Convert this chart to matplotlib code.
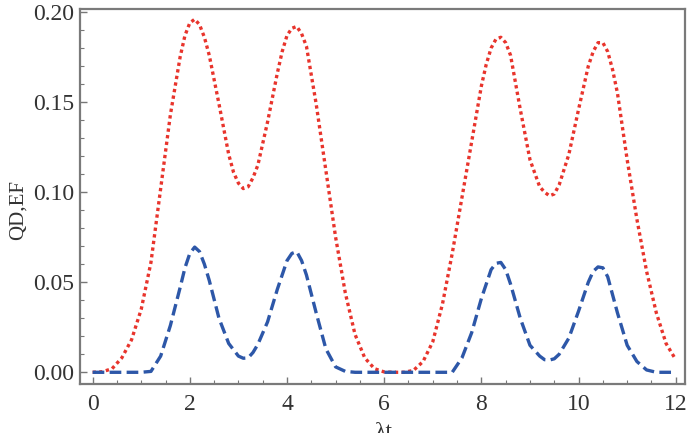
#! /usr/bin/env python

# Import libraries
import matplotlib
matplotlib.use('Agg')
import matplotlib.pyplot as plt
from matplotlib.ticker import MultipleLocator, FormatStrFormatter

plt.rcParams['font.family'] = ['Liberation Serif', 'TeX Gyre Termes', 'DejaVu Serif']
plt.rcParams['font.size'] = 17

# Values (red dotted)
t_ef = [0, 0.2, 0.4, 0.6, 0.8, 1.0, 1.2, 1.4, 1.6, 1.8, 1.9, 2.0, 2.1, 2.2, 2.3, 2.4, 2.6,
        2.8, 2.9, 3.0, 3.1, 3.2, 3.3, 3.4, 3.6, 3.8, 3.9, 4.0, 4.1, 4.2, 4.3, 4.4, 4.6, 4.8,
        5.0, 5.2, 5.4, 5.6, 5.8, 6.0, 6.2, 6.4, 6.6, 6.8, 7.0, 7.2, 7.4, 7.6, 7.8, 8.0, 8.1,
        8.2, 8.3, 8.4, 8.5, 8.6, 8.8, 9.0, 9.2, 9.3, 9.4, 9.5, 9.6, 9.8, 10.0, 10.2, 10.3,
        10.4, 10.5, 10.6, 10.7, 10.8, 11.0, 11.2, 11.4, 11.6, 11.8, 12.0]
ef = [0.000, 0.0003, 0.002, 0.008, 0.018, 0.035, 0.061, 0.102, 0.143, 0.175, 0.187, 0.194,
      0.196, 0.193, 0.186, 0.176, 0.149, 0.121, 0.111, 0.105, 0.102, 0.103, 0.108, 0.115,
      0.139, 0.166, 0.178, 0.187, 0.191, 0.192, 0.188, 0.181, 0.149, 0.112, 0.075, 0.044,
      0.021, 0.008, 0.002, 0.0002, 0.000, 0.000, 0.001, 0.006, 0.017, 0.038, 0.066, 0.097,
      0.128, 0.159, 0.171, 0.180, 0.185, 0.186, 0.183, 0.176, 0.146, 0.118, 0.103, 0.100,
      0.098, 0.099, 0.104, 0.121, 0.146, 0.170, 0.178, 0.183, 0.183, 0.178, 0.168, 0.155,
      0.118, 0.085, 0.056, 0.033, 0.016, 0.007]

# Blue dashed
t_qd = [0, 0.2, 0.4, 0.6, 0.8, 1.0, 1.2, 1.4, 1.6, 1.8, 1.9, 2.0, 2.1, 2.2, 2.3, 2.4, 2.6,
        2.8, 3.0, 3.1, 3.2, 3.3, 3.4, 3.6, 3.8, 4.0, 4.1, 4.2, 4.3, 4.4, 4.6, 4.8, 5.0, 5.2,
        5.4, 6.0, 7.0, 7.4, 7.6, 7.8, 8.0, 8.2, 8.3, 8.4, 8.5, 8.6, 8.8, 9.0, 9.2, 9.3, 9.4,
        9.5, 9.6, 9.8, 10.0, 10.2, 10.3, 10.4, 10.5, 10.6, 10.8, 11.0, 11.2, 11.4, 11.6, 12.0]
qd = [0, 0, 0, 0, 0, 0, 0.0005, 0.009, 0.026, 0.047, 0.058, 0.066, 0.0695, 0.067, 0.060,
      0.051, 0.030, 0.016, 0.009, 0.0078, 0.008, 0.011, 0.0155, 0.028, 0.046, 0.062, 0.066,
      0.067, 0.062, 0.054, 0.033, 0.013, 0.003, 0.0005, 0, 0, 0, 0, 0.008, 0.022, 0.041,
      0.057, 0.0605, 0.061, 0.057, 0.049, 0.030, 0.015, 0.009, 0.007, 0.0068, 0.0075, 0.010,
      0.019, 0.034, 0.050, 0.056, 0.0585, 0.058, 0.053, 0.033, 0.015, 0.006, 0.0013, 0, 0]

fig = plt.figure(figsize=(6.87, 4.33), dpi=100)
ax = fig.add_axes([80/687, 1 - 384/433, 605/687, 375/433])

ax.plot(t_ef, ef, color='#e8342c', linestyle=(0, (1, 1)), linewidth=2.4)
ax.plot(t_qd, qd, color='#2d57a8', linestyle=(0, (3.5, 1.6)), linewidth=2.4)

ax.set_xlim(-0.26, 12.19)
ax.set_ylim(-0.0065, 0.2017)

ax.xaxis.set_major_locator(MultipleLocator(2))
ax.xaxis.set_minor_locator(MultipleLocator(0.5))
ax.yaxis.set_major_locator(MultipleLocator(0.05))
ax.yaxis.set_minor_locator(MultipleLocator(0.01))
ax.yaxis.set_major_formatter(FormatStrFormatter('%.2f'))

ax.tick_params(which='both', direction='in', color='#777777', top=False, right=False,
               labelcolor='#333333')
ax.tick_params(which='major', length=5, width=1)
ax.tick_params(which='minor', length=3, width=0.8)
ax.tick_params(axis='x', pad=7)
ax.tick_params(axis='y', pad=4)

for s in ax.spines.values():
    s.set_color('#7a7a7a')
    s.set_linewidth(1.6)

fig.text(18/687, 1 - 210/433, 'QD,EF', rotation=90, ha='center', va='center', fontsize=15,
         color='#333333')
fig.text(383/687, 1 - 422/433, 'λt', ha='center', va='top', fontsize=17, color='#333333')

fig.savefig('out.png', dpi=100)
